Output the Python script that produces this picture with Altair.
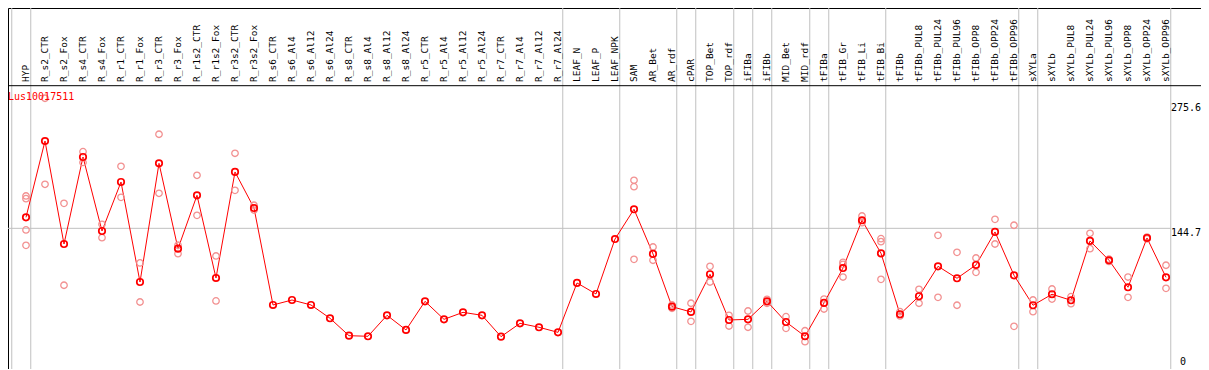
import altair as alt
import pandas as pd

categories = [
    "HYP", "R_s2_CTR", "R_s2_Fox", "R_s4_CTR", "R_s4_Fox", "R_r1_CTR", "R_r1_Fox",
    "R_r3_CTR", "R_r3_Fox", "R_r1s2_CTR", "R_r1s2_Fox", "R_r3s2_CTR", "R_r3s2_Fox",
    "R_s6_CTR", "R_s6_Al4", "R_s6_Al12", "R_s6_Al24", "R_s8_CTR", "R_s8_Al4",
    "R_s8_Al12", "R_s8_Al24", "R_r5_CTR", "R_r5_Al4", "R_r5_Al12", "R_r5_Al24",
    "R_r7_CTR", "R_r7_Al4", "R_r7_Al12", "R_r7_Al24", "LEAF_N", "LEAF_P", "LEAF_NPK",
    "SAM", "AR_Bet", "AR_rdf", "cPAR", "TOP_Bet", "TOP_rdf", "iFIBa", "iFIBb",
    "MID_Bet", "MID_rdf", "tFIBa", "tFIB_Gr", "tFIB_Li", "tFIB_Bi", "tFIBb",
    "tFIBb_PUL8", "tFIBb_PUL24", "tFIBb_PUL96", "tFIBb_OPP8", "tFIBb_OPP24",
    "tFIBb_OPP96", "sXYLa", "sXYLb", "sXYLb_PUL8", "sXYLb_PUL24", "sXYLb_PUL96",
    "sXYLb_OPP8", "sXYLb_OPP24", "sXYLb_OPP96",
]

means = [
    156.2, 235.9, 128.3, 219.2, 141.9, 193.1, 88.6, 212.6, 123.4, 179.2, 92.8,
    203.6, 165.9, 64.6, 69.8, 64.6, 50.7, 32.5, 31.9, 53.8, 38.5, 68.4, 49.6,
    56.9, 53.8, 31.5, 45.4, 41.3, 36.0, 87.6, 76.1, 133.5, 164.6, 117.9, 62.8,
    57.3, 96.7, 48.9, 49.6, 68.4, 46.8, 31.9, 66.7, 103.2, 153.1, 118.6, 54.9,
    73.7, 105.0, 92.5, 106.4, 140.9, 95.6, 64.3, 75.8, 69.5, 131.5, 111.3, 83.1,
    134.6, 93.5,
]

replicates = [
    [178.5, 175.7, 143.0, 126.9], [280.6, 190.7], [170.8, 85.2], [224.8, 213.5],
    [148.9, 134.9], [209.5, 177.1], [108.5, 67.7], [243.0, 181.3], [127.0, 118.2],
    [200.1, 158.3], [115.8, 68.8], [223.1, 184.4], [168.8, 163.8],
    [], [], [], [], [], [], [], [], [], [], [], [], [], [], [], [], [], [], [],
    [194.9, 188.2, 112.3], [125.2, 111.3], [64.6, 61.1], [66.4, 47.5],
    [105.0, 88.6], [53.8, 42.6], [58.3, 41.3], [70.5, 66.4], [52.4, 40.2],
    [37.7, 26.2], [70.8, 60.4], [109.2, 107.1, 93.8], [157.6, 150.6],
    [133.9, 130.7, 91.4], [57.6, 53.1], [81.0, 66.4], [137.4, 72.6],
    [119.6, 64.3], [113.7, 98.7], [154.1, 128.3], [147.9, 42.3], [69.8, 57.6],
    [81.3, 70.8], [73.3, 65.9], [139.5, 123.4], [112.5, 110.1], [93.8, 72.6],
    [135.5, 133.7], [106.1, 82.0],
]

# categories after which a separator line is drawn ("" = before the first one)
group_ends = ["", "HYP", "R_r7_Al24", "LEAF_NPK", "AR_rdf", "cPAR", "TOP_rdf",
              "iFIBa", "iFIBb", "MID_rdf", "tFIBa", "tFIB_Bi", "tFIBb_OPP96",
              "sXYLa", "sXYLb_OPP96"]

gene = "Lus10017511"
ytick_values = [275.6, 144.7]
ytick_labels = ["275.6", "144.7"]
grid_value = 144.7

W, H = 1193, 361
STEP = 19.0
x0 = -18.0 / STEP
xscale = alt.Scale(domain=[x0, x0 + W / STEP], nice=False, zero=False)
yscale = alt.Scale(domain=[-2.3, 374.9], nice=False, zero=False)
FONT = "DejaVu Sans Mono"

mean_df = pd.DataFrame({"pos": list(range(len(categories))), "cat": categories, "val": means})
rep_rows = []
for i, reps in enumerate(replicates):
    for r in reps:
        rep_rows.append({"pos": i, "cat": categories[i], "val": r})
rep_df = pd.DataFrame(rep_rows)
sep_df = pd.DataFrame({"pos": [(categories.index(c) if c else -1) + 0.25 for c in group_ends]})
tick_df = pd.DataFrame({"val": ytick_values, "label": ytick_labels})
grid_df = pd.DataFrame({"val": [grid_value]})

X = alt.X("pos:Q", scale=xscale, axis=None)
Y = alt.Y("val:Q", scale=yscale, axis=None)

hgrid = alt.Chart(grid_df).mark_rule(color="#c0c0c0", strokeWidth=1).encode(
    y=Y, x=alt.value(0), x2=alt.value(1163))

seps = alt.Chart(sep_df).mark_rule(color="#c0c0c0", strokeWidth=1).encode(
    x=X, y=alt.value(0), y2=alt.value(H))

labels = alt.Chart(mean_df).mark_text(
    angle=270, align="left", baseline="middle", font=FONT, fontSize=9.5, color="black"
).encode(x=X, y=alt.value(74), text="cat:N")

header_line = alt.Chart(grid_df).mark_rule(color="black", strokeWidth=1).encode(
    x=alt.value(0), x2=alt.value(W), y=alt.value(77.7))

line = alt.Chart(mean_df).mark_line(color="#ff0000", strokeWidth=1).encode(x=X, y=Y)

reps_pts = alt.Chart(rep_df).mark_point(
    shape="circle", filled=False, size=42, strokeWidth=1.3, color="#f29191", opacity=1
).encode(x=X, y=Y)

mean_pts = alt.Chart(mean_df).mark_point(
    shape="circle", filled=False, size=42, strokeWidth=1.7, color="#ff0000", opacity=1
).encode(x=X, y=Y)

gene_txt = alt.Chart(grid_df).mark_text(
    align="left", baseline="top", font=FONT, fontSize=10, color="#ff0000"
).encode(x=alt.value(0), y=alt.value(84), text=alt.value(gene))

ytxt = alt.Chart(tick_df).mark_text(
    align="left", baseline="top", font=FONT, fontSize=10, color="black"
).encode(x=alt.value(1163), y=Y, text="label:N")

zero_txt = alt.Chart(pd.DataFrame({"val": [0.0], "label": ["0"]})).mark_text(
    align="left", baseline="bottom", font=FONT, fontSize=10, color="black"
).encode(x=alt.value(1172), y=Y, text="label:N")

chart = alt.layer(
    hgrid, seps, labels, header_line, line, reps_pts, mean_pts, gene_txt, ytxt, zero_txt
).properties(
    width=W, height=H, padding=0, autosize="none", background="white"
).configure_view(stroke="black", strokeWidth=1)

chart.save("out.html", embed_options={"renderer": "svg", "actions": False})
